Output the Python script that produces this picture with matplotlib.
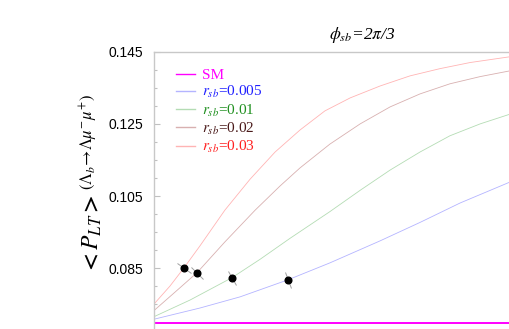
import numpy as np
import matplotlib
matplotlib.use('Agg')
import matplotlib.pyplot as plt
from matplotlib.markers import MarkerStyle
from matplotlib.transforms import Affine2D

plt.rcParams['font.family'] = 'Liberation Sans'
plt.rcParams['mathtext.fontset'] = 'stix'

# x is the (unlabelled) horizontal variable, scaled 0..1 over the visible range
x_red = [0, 0.045, 0.084, 0.129, 0.199, 0.270, 0.340, 0.410, 0.480, 0.551, 0.635, 0.719, 0.803, 0.888, 1.0]
y_red = [0.0751, 0.0801, 0.0851, 0.0912, 0.1011, 0.1097, 0.1172, 0.1233, 0.1286, 0.1322, 0.1355, 0.1383, 0.1403, 0.1420, 0.1436]

x_brown = [0, 0.059, 0.121, 0.199, 0.284, 0.354, 0.410, 0.494, 0.579, 0.663, 0.747, 0.831, 0.916, 1.0]
y_brown = [0.0733, 0.0784, 0.0838, 0.0923, 0.1011, 0.1078, 0.1128, 0.1194, 0.1250, 0.1297, 0.1333, 0.1361, 0.1381, 0.1397]

x_green = [0, 0.101, 0.219, 0.298, 0.382, 0.494, 0.579, 0.663, 0.747, 0.831, 0.916, 1.0]
y_green = [0.0716, 0.0762, 0.0824, 0.0875, 0.0933, 0.1007, 0.1066, 0.1122, 0.1172, 0.1217, 0.1250, 0.1277]

x_blue = [0, 0.129, 0.242, 0.376, 0.494, 0.635, 0.747, 0.860, 1.0]
y_blue = [0.0709, 0.0740, 0.0771, 0.0818, 0.0865, 0.0926, 0.0977, 0.1031, 0.1089]

x_sm = [0, 1.0]
y_sm = [0.0699, 0.0699]

# black dots on each curve
dot_x = [0.084, 0.122, 0.218, 0.377]
dot_y = [0.0851, 0.0838, 0.0824, 0.0817]
dot_curve = ['red', 'brown', 'green', 'blue']

labels = ['SM', r'$r_{sb}$=0.005', r'$r_{sb}$=0.01', r'$r_{sb}$=0.02', r'$r_{sb}$=0.03']
line_cols = ['#ff00ff', '#b4b4ff', '#b4dcb4', '#d8b0b0', '#ffb4b4']
text_cols = ['#ff00ff', '#2020ff', '#209020', '#4a1a1a', '#ff2020']

fig = plt.figure(figsize=(5.1, 3.29), dpi=100)
ax = fig.add_axes([154/510, 0, 356/510, 1 - 51.7/329])

ax.plot(x_sm, y_sm, color=line_cols[0], lw=1.4, label=labels[0])
ax.plot(x_blue, y_blue, color=line_cols[1], lw=0.6, label=labels[1])
ax.plot(x_green, y_green, color=line_cols[2], lw=0.6, label=labels[2])
ax.plot(x_brown, y_brown, color=line_cols[3], lw=0.6, label=labels[3])
ax.plot(x_red, y_red, color=line_cols[4], lw=0.6, label=labels[4])

ax.set_xlim(0, 1)
ax.set_ylim(0.06819, 0.145)
ax.set_yticks([0.085, 0.105, 0.125, 0.145])
ax.set_yticks(np.arange(0.070, 0.1451, 0.005), minor=True)
ax.set_yticklabels(['0.085', '0.105', '0.125', '0.145'], fontsize=10)
ax.tick_params(axis='y', which='major', direction='in', length=4.5, width=0.8, color='#c0c0c0', pad=8)
ax.tick_params(axis='y', which='minor', direction='in', length=2.5, width=0.8, color='#c0c0c0')
ax.set_xticks([])
for s in ['right', 'bottom']:
    ax.spines[s].set_visible(False)
for s in ['left', 'top']:
    ax.spines[s].set_color('#c8c8c8')
    ax.spines[s].set_linewidth(1.0)

# perpendicular gray tick through each dot
curves = {'red': (x_red, y_red), 'brown': (x_brown, y_brown),
          'green': (x_green, y_green), 'blue': (x_blue, y_blue)}
fig.canvas.draw()
for xd, yd, c in zip(dot_x, dot_y, dot_curve):
    cx, cy = curves[c]
    pts = ax.transData.transform(np.column_stack([cx, cy]))
    i = np.searchsorted(cx, xd)
    i = min(max(i, 1), len(cx) - 1)
    dx, dy = pts[i] - pts[i - 1]
    ang = np.degrees(np.arctan2(dy, dx)) + 90
    m = MarkerStyle('_', transform=Affine2D().rotate_deg(ang))
    ax.plot([xd], [yd], marker=m, ms=12, mew=0.7, color='#a0a0a0', ls='none')
ax.plot(dot_x, dot_y, 'o', color='black', ms=4.8, ls='none', zorder=5)

leg = ax.legend(loc='upper left', bbox_to_anchor=(0.063, 0.94), frameon=False,
                prop={'family': 'Liberation Serif', 'size': 11}, handlelength=1.2,
                handletextpad=0.5, labelspacing=0.14, borderpad=0, borderaxespad=0)
for t, c in zip(leg.get_texts(), text_cols):
    t.set_color(c)
for h in leg.get_lines():
    h.set_linewidth(1.0)

fig.text(362/510, 1 - 35/329, r'$\phi_{sb}$=2$\pi$/3', ha='center', va='center',
         fontsize=12.5, family='Liberation Serif', style='italic')

fig.text(92/510, 1 - 274/329, r'$\mathbf{<}P_{LT}\mathbf{>}$', rotation=90,
         ha='center', va='bottom', fontsize=17)
fig.text(89/510, 1 - 190/329, r'$(\mathit{\Lambda}_b\!\rightarrow\!\mathit{\Lambda}\mu^{-}\mu^{+})$',
         rotation=90, ha='center', va='bottom', fontsize=12)

fig.savefig('out.png', dpi=100)
